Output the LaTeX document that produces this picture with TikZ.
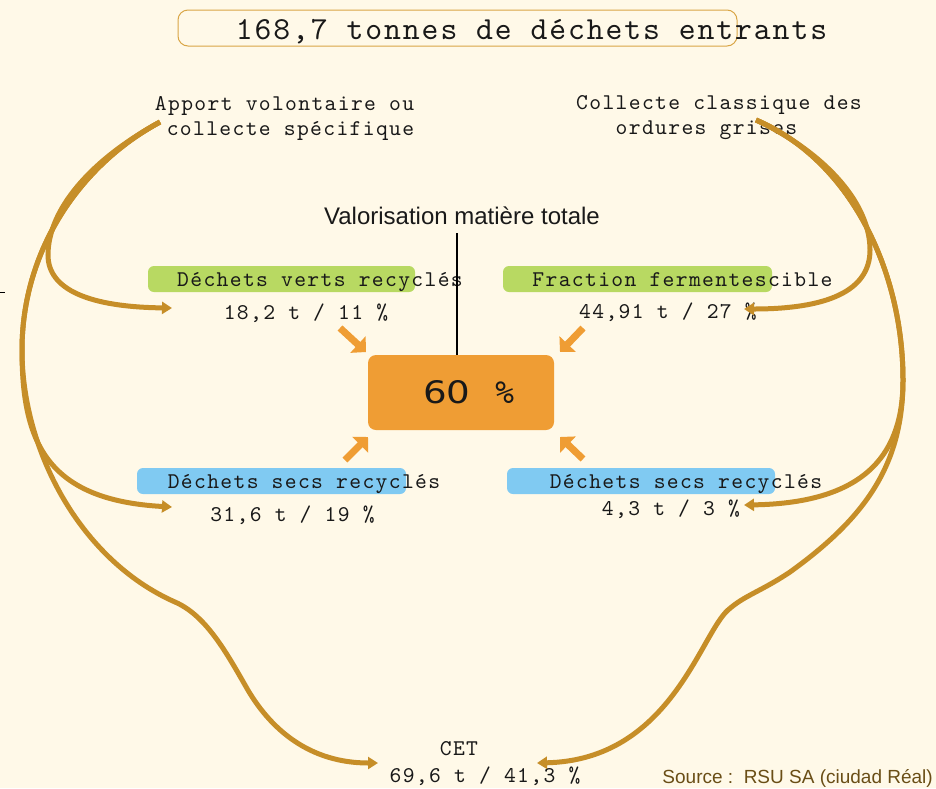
\documentclass[tikz,border=0pt]{standalone}
\usepackage{fontspec}
\usepackage{graphicx}
\usetikzlibrary{arrows.meta}
\newfontfamily\mono[LetterSpace=6]{lmmono10-regular.otf}
\newfontfamily\sanslib{Liberation Sans}
\newfontfamily\dvs{DejaVu Sans}
\newfontfamily\dvsm{DejaVu Sans Mono}
\definecolor{bg}{RGB}{255,249,232}
\definecolor{brownc}{RGB}{198,142,40}
\definecolor{orangec}{RGB}{239,157,52}
\definecolor{greenc}{RGB}{184,217,98}
\definecolor{bluec}{RGB}{128,202,242}
\definecolor{titleframe}{RGB}{217,166,70}
\definecolor{srcc}{RGB}{106,78,22}
\definecolor{txt}{RGB}{25,25,25}
\begin{document}
\begin{tikzpicture}[x=1pt,y=-1pt,
  mid/.style={font=\mono\fontsize{22.5}{25}\selectfont, text=txt, inner sep=0pt, anchor=base},
  twoline/.style={font=\mono\fontsize{22.5}{25}\selectfont, text=txt, inner sep=0pt, align=center},
  gbox/.style={fill=greenc, rounded corners=6pt, minimum height=26pt, inner sep=0pt},
  bbox/.style={fill=bluec, rounded corners=6pt, minimum height=26pt, inner sep=0pt},
  barr/.style={draw=brownc, line width=5pt, -{Triangle[length=10pt,width=12pt]}},
  oarr/.style={draw=orangec, line width=7pt, -{Triangle[length=11pt,width=22pt]}}
]
\fill[bg] (0,0) rectangle (936,788);
\useasboundingbox (0,0) rectangle (936,788);

% title
\node[draw=titleframe, line width=1pt, rounded corners=10pt, minimum width=559pt, minimum height=36pt, inner sep=0pt] (tbox) at (457.5,28) {};
\node[font=\mono\fontsize{32.1}{34}\selectfont, text=txt, inner sep=0pt, anchor=base] (title) at (531.5,39) {168,7 tonnes de déchets entrants};

% sources
\node[twoline] (src1) at (290.5,118) {Apport volontaire ou\phantom{u}\\collecte spécifique};
\node[twoline] (src2) at (719,118) {Collecte classique des\\ordures grises\phantom{uu}};

% valorisation
\node[font=\sanslib\fontsize{24}{26}\selectfont, text=txt, inner sep=0pt, anchor=base] (valo) at (462,224) {Valorisation matière totale};
\coordinate (vline) at (457,233);

% boxes
\node[gbox, minimum width=267pt] (gboxL) at (281.5,279) {};
\node[gbox, minimum width=269pt] (gboxR) at (637.5,279) {};
\node[bbox, minimum width=269pt] (bboxL) at (271.5,481) {};
\node[bbox, minimum width=268pt] (bboxR) at (641,481) {};

\node[mid] (tGL) at (320,286) {Déchets verts recyclés};
\node[mid] (vGL) at (306,319) {18,2 t / 11 \%};
\node[mid] (tGR) at (682.5,286) {Fraction fermentescible};
\node[mid] (vGR) at (668,318) {44,91 t / 27 \%};
\node[mid] (tBL) at (304,488) {Déchets secs recyclés};
\node[mid] (vBL) at (292.5,521) {31,6 t / 19 \%};
\node[mid] (tBR) at (686,488) {Déchets secs recyclés};
\node[mid] (vBR) at (671,515) {4,3 t / 3 \%};
\node[mid] (cet) at (459,755) {CET};
\node[mid] (vCET) at (485,782) {69,6 t / 41,3 \%};

% central box
\node[fill=orangec, rounded corners=8pt, minimum width=186pt, minimum height=75pt, inner sep=0pt] (total) at (461,392.5) {};
\node[inner sep=0pt, anchor=base, text=txt] (totaltxt) at (468.5,403) {\dvs\fontsize{31}{31}\selectfont\scalebox{1.2}[1]{60}\hspace{25pt}{\dvsm\fontsize{31}{31}\selectfont\%}};
\draw[line width=2.5pt, black] (vline) -- (vline |- total.north);

% orange arrows
\coordinate (oTLa) at (340,328); \coordinate (oTLb) at (366,352);
\coordinate (oTRa) at (583,328); \coordinate (oTRb) at (560,352);
\coordinate (oBLa) at (345,460); \coordinate (oBLb) at (368,437);
\coordinate (oBRa) at (583,459); \coordinate (oBRb) at (560,437);
\draw[oarr] (oTLa) -- (oTLb);
\draw[oarr] (oTRa) -- (oTRb);
\draw[oarr] (oBLa) -- (oBLb);
\draw[oarr] (oBRa) -- (oBRb);

% brown flows
\coordinate (S1) at (160,122);
\coordinate (S2) at (756,120);
\coordinate (tipGL) at (172,308);
\coordinate (tipBL) at (172,507);
\coordinate (tipCL) at (378,763);
\coordinate (tipGR) at (744,309);
\coordinate (tipBR) at (744,505);
\coordinate (tipCR) at (537,763);

\draw[barr] (S1) .. controls (90,160) and (48,210) .. (48,255) .. controls (48,290) and (90,307) .. (tipGL);
\draw[barr] (S1) .. controls (80,165) and (22,250) .. (22,350) .. controls (22,440) and (45,500) .. (tipBL);
\draw[barr] (S1) .. controls (80,165) and (22,250) .. (22,350) .. controls (22,450) and (80,560) .. (175,602) .. controls (205,615) and (225,650) .. (245,685) .. controls (270,730) and (310,763) .. (tipCL);

\draw[barr] (S2) .. controls (820,150) and (870,200) .. (870,250) .. controls (870,292) and (825,309) .. (tipGR);
\draw[barr] (S2) .. controls (850,160) and (903,270) .. (903,380) .. controls (903,450) and (870,503) .. (tipBR);
\draw[barr] (S2) .. controls (850,160) and (903,270) .. (903,380) .. controls (903,465) and (865,518) .. (790,572) .. controls (760,592) and (745,595) .. (728,610) .. controls (700,635) and (670,760) .. (tipCR);

% source
\node[font=\sanslib\fontsize{19}{21}\selectfont, text=srcc, inner sep=0pt, anchor=base east] (source) at (933,783) {Source :\ \ RSU SA (ciudad Réal)};

% small tick at left edge
\coordinate (tk1) at (0,292.5); \coordinate (tk2) at (5,292.5);
\draw[line width=1pt, black] (tk1) -- (tk2);
\end{tikzpicture}
\end{document}
